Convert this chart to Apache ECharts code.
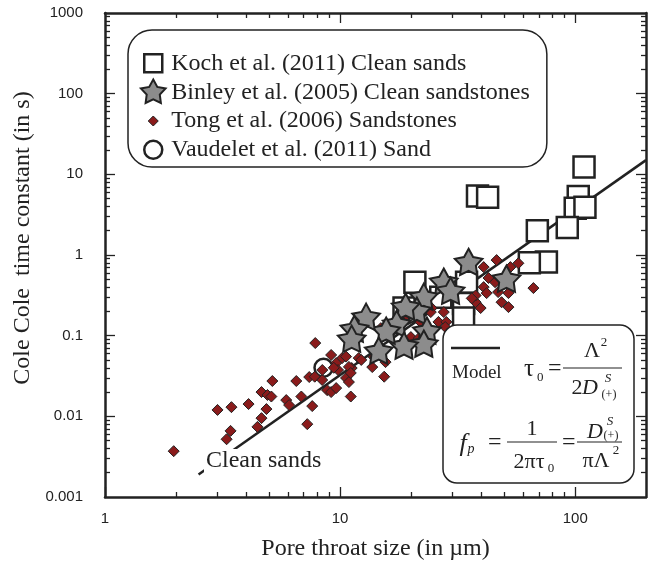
<!DOCTYPE html>
<html><head><meta charset="utf-8">
<script src="https://cdn.jsdelivr.net/npm/echarts@6/dist/echarts.min.js"></script>
<style>html,body{margin:0;padding:0;background:#fff}#c{width:653px;height:568px}</style>
</head><body><div id="c"></div>
<script>
// ---- tick labels ----
const xTickValues = [1, 10, 100];
const xTickLabels = ['1', '10', '100'];
const yTickValues = [0.001, 0.01, 0.1, 1, 10, 100, 1000];
const yTickLabels = ['0.001', '0.01', '0.1', '1', '10', '100', '1000'];

// ---- series names ----
const seriesNames = [
  'Koch et al. (2011) Clean sands',
  'Binley et al. (2005) Clean sandstones',
  'Tong et al. (2006) Sandstones',
  'Vaudelet et al. (2011) Sand'
];

// ---- data: [pore throat size (um), time constant (s)] ----
const kochData = [
  [109, 12.3], [38.4, 5.4], [42.4, 5.2], [103, 5.3], [100, 3.8], [110, 3.9],
  [92.5, 2.2], [69, 2.0], [75.4, 0.82], [63.8, 0.80], [20.8, 0.46], [34.5, 0.46],
  [33.5, 0.25], [33.5, 0.165], [18.7, 0.22], [26.8, 0.30]
];
const binleyData = [
  [35.2, 0.79], [27.6, 0.449], [29.5, 0.347], [51.0, 0.489], [22.7, 0.292],
  [21.2, 0.196], [19.0, 0.22], [17.4, 0.135], [23.4, 0.111], [22.7, 0.0766],
  [18.7, 0.0723], [15.7, 0.111], [12.9, 0.165], [11.5, 0.117], [11.2, 0.088],
  [14.6, 0.0627]
];
const tongData = [
  [1.96, 0.0037], [3.01, 0.012], [3.45, 0.013], [3.29, 0.0052], [3.42, 0.0066],
  [4.08, 0.0142], [4.86, 0.0123], [4.63, 0.0095], [4.45, 0.0074], [5.15, 0.0274],
  [4.63, 0.020], [4.91, 0.0184], [5.1, 0.0176], [5.9, 0.0159], [6.07, 0.0138],
  [6.84, 0.0176], [6.51, 0.0274], [7.61, 0.0134], [7.25, 0.008], [7.84, 0.081],
  [7.39, 0.0307], [7.8, 0.031], [9.16, 0.0576], [10.2, 0.0527], [9.62, 0.0457],
  [9.8, 0.0375], [8.39, 0.0282], [8.81, 0.0211], [9.16, 0.020], [9.62, 0.0224],
  [10.6, 0.0299], [10.9, 0.0266], [11.1, 0.0176], [11.2, 0.0397], [12.0, 0.0527],
  [13.7, 0.0408], [15.4, 0.031], [14.9, 0.124], [15.6, 0.047], [20.0, 0.096],
  [21.6, 0.093], [27.6, 0.196], [26.2, 0.148], [28.3, 0.148], [24.5, 0.22],
  [46.3, 0.865], [40.8, 0.708], [53.0, 0.708], [57.3, 0.79], [42.8, 0.518],
  [45.6, 0.46], [40.8, 0.40], [42.0, 0.337], [47.0, 0.347], [52.0, 0.337],
  [48.6, 0.26], [52.0, 0.226], [37.7, 0.26], [39.6, 0.22], [37.7, 0.315],
  [28.0, 0.128], [13.9, 0.0543], [66.4, 0.389], [10.6, 0.055], [12.3, 0.050],
  [10.9, 0.041], [9.4, 0.040], [11.1, 0.0345], [8.4, 0.0375], [36.3, 0.29],
  [22.0, 0.147], [24.3, 0.196], [17.0, 0.15], [19.5, 0.17]
];
const vaudeletData = [[8.5, 0.04]];
const modelLine = [[2.5, 0.0019], [200, 15]];

// ---- helpers ----
const F = 'Liberation Serif';
const INK = '#222';
function minorTicks(lo, hi, max) {
  const out = [];
  for (let e = lo; e < hi; e++) for (let k = 2; k <= 9; k++) {
    const v = +(k * Math.pow(10, e)).toPrecision(3);
    if (v < max) out.push(v);
  }
  return out;
}
const xMinor = minorTicks(0, 3, 200);
const yMinor = minorTicks(-3, 3, 1000);
const xMajorTicks = [10, 100];
const yMajorTicks = [0.01, 0.1, 1, 10, 100];

const STAR = 'M0,-10L3.115,-4.288L9.511,-3.09L5.04,1.638L5.878,8.09L0,5.3L-5.878,8.09L-5.04,1.638L-9.511,-3.09L-3.115,-4.288Z';
const starSymbol = 'path://M-10,-10M10,10' + STAR;

function labelFor(values, labels) {
  return function (v) {
    let best = 0, d = Infinity;
    values.forEach((t, i) => { const dd = Math.abs(Math.log10(v) - Math.log10(t)); if (dd < d) { d = dd; best = i; } });
    return labels[best];
  };
}

const lineStyleAxis = { color: INK, width: 2.5 };
function makeX(pos, ticks, len, withLine, withLabels) {
  return {
    type: 'log', logBase: 10, min: 1, max: 200, position: pos,
    axisLine: { show: withLine, onZero: false, lineStyle: lineStyleAxis },
    axisTick: { show: true, inside: true, length: len, customValues: ticks, lineStyle: { color: INK, width: 1.3 } },
    axisLabel: withLabels ? {
      show: true, customValues: xTickValues, formatter: labelFor(xTickValues, xTickLabels),
      margin: 14, fontSize: 15, color: INK, fontFamily: 'Liberation Sans'
    } : { show: false },
    splitLine: { show: false }, minorTick: { show: false }
  };
}
function makeY(pos, ticks, len, withLine, withLabels) {
  return {
    type: 'log', logBase: 10, min: 0.001, max: 1000, position: pos,
    axisLine: { show: withLine, onZero: false, lineStyle: lineStyleAxis },
    axisTick: { show: true, inside: true, length: len, customValues: ticks, lineStyle: { color: INK, width: 1.3 } },
    axisLabel: withLabels ? {
      show: true, customValues: yTickValues, formatter: labelFor(yTickValues, yTickLabels),
      margin: 22, fontSize: 15, color: INK, fontFamily: 'Liberation Sans'
    } : { show: false },
    splitLine: { show: false }, minorTick: { show: false }
  };
}

const xAxes = [
  makeX('bottom', [1].concat(xMajorTicks), 10, true, true),
  makeX('bottom', xMinor, 5, false, false),
  makeX('top', xMajorTicks, 10, true, false),
  makeX('top', xMinor, 5, false, false)
];
Object.assign(xAxes[0], {
  name: 'Pore throat size (in µm)', nameLocation: 'middle', nameGap: 40,
  nameTextStyle: { fontFamily: F, fontSize: 24, color: INK }
});
const yAxes = [
  makeY('left', yMajorTicks, 10, true, true),
  makeY('left', yMinor, 5, false, false),
  makeY('right', yMajorTicks, 10, true, false),
  makeY('right', yMinor, 5, false, false)
];
Object.assign(yAxes[0], {
  name: 'Cole Cole  time constant (in s)', nameLocation: 'middle', nameGap: 68,
  nameTextStyle: { fontFamily: F, fontSize: 24, color: INK, padding: [0, 0, 0, 34] }
});

function tx(text, x, y, size, opt) {
  return {
    type: 'text', x: x, y: y, z: 100, silent: true,
    style: Object.assign({
      text: text, fontFamily: F, fontSize: size, fill: INK,
      align: 'left', verticalAlign: 'middle', textAlign: 'left', textVerticalAlign: 'middle'
    }, opt || {})
  };
}
function ln(x1, y1, x2, y2, w) {
  return { type: 'line', z: 100, silent: true, shape: { x1, y1, x2, y2 }, style: { stroke: INK, lineWidth: w } };
}
const C = { align: 'center', textAlign: 'center' };
const CI = { align: 'center', textAlign: 'center', fontStyle: 'italic' };

const graphics = [
  { type: 'rect', z: 99, silent: true, shape: { x: 443, y: 325, width: 191, height: 158, r: 14 },
    style: { fill: '#fff', stroke: INK, lineWidth: 1.5 } },
  ln(451, 348, 500, 348, 2.5),
  tx('Model', 452, 373, 19),
  // tau_0 = Lambda^2 / (2 D^S_(+))
  tx('τ', 529, 369, 25, C),
  tx('0', 537, 378, 13),
  tx('=', 548, 369, 24),
  ln(563, 368, 622, 368, 1.2),
  tx('Λ', 592, 351, 22, C),
  tx('2', 604, 343, 13, C),
  tx('2', 577, 388, 22, C),
  tx('D', 590, 388, 22, CI),
  tx('S', 608, 379, 13, CI),
  tx('(+)', 609, 395, 12, C),
  // f_p = 1/(2 pi tau_0) = D^S_(+) / (pi Lambda^2)
  tx('f', 463, 444, 26, CI),
  tx('p', 471, 449, 14, CI),
  tx('=', 488, 443, 24),
  ln(507, 442, 557, 442, 1.2),
  tx('1', 532, 429, 22, C),
  tx('2πτ', 529, 462, 22, C),
  tx('0', 551, 469, 13, C),
  tx('=', 562, 443, 24),
  ln(577, 442, 622, 442, 1.2),
  tx('D', 595, 432, 22, CI),
  tx('S', 610, 422, 13, CI),
  tx('(+)', 611, 436, 12, C),
  tx('πΛ', 596, 461, 22, C),
  tx('2', 616, 451, 13, C),
  // Clean sands label over the model line
  Object.assign(tx('Clean sands', 204, 461, 24, { backgroundColor: '#fff', padding: [0, 2] }), { z: 50 })
];

const chart = echarts.init(document.getElementById('c'), null, { renderer: 'canvas' });
chart.setOption({
  animation: false,
  backgroundColor: '#fff',
  grid: { left: 105, right: 7, top: 13, bottom: 71 },
  xAxis: xAxes,
  yAxis: yAxes,
  legend: {
    left: 128, top: 30, orient: 'vertical', selectedMode: false,
    itemWidth: 26, itemHeight: 26, itemGap: 1, itemTextGap: 15,
    padding: [19, 17, 3, 11],
    borderColor: INK, borderWidth: 1.5, borderRadius: 24, backgroundColor: '#fff',
    textStyle: { fontFamily: F, fontSize: 24, color: INK },
    data: [
      { name: seriesNames[0], icon: 'path://M0,0M26,26M4,4L22,4L22,22L4,22Z',
        itemStyle: { color: '#fff', borderColor: INK, borderWidth: 2.5 } },
      { name: seriesNames[1], icon: 'path://M-10,-10M10,10' + STAR,
        itemStyle: { color: '#8c8c8c', borderColor: INK, borderWidth: 2 } },
      { name: seriesNames[2], icon: 'path://M0,0M26,26M13,8L18,13L13,18L8,13Z',
        itemStyle: { color: '#8a1b1b', borderColor: INK, borderWidth: 1 } },
      { name: seriesNames[3], icon: 'path://M0,0M26,26M4,13A9,9,0,1,1,22,13A9,9,0,1,1,4,13Z',
        itemStyle: { color: '#fff', borderColor: INK, borderWidth: 2.5 } }
    ]
  },
  graphic: graphics,
  series: [
    { name: 'Model', type: 'line', data: modelLine, symbol: 'none', silent: true,
      lineStyle: { color: INK, width: 2.5 }, z: 1 },
    { name: seriesNames[0], type: 'scatter', data: kochData, symbol: 'rect', symbolSize: 21,
      itemStyle: { color: '#fff', borderColor: INK, borderWidth: 2.5, opacity: 1 }, z: 2 },
    { name: seriesNames[3], type: 'scatter', data: vaudeletData, symbol: 'circle', symbolSize: 18,
      itemStyle: { color: '#fff', borderColor: INK, borderWidth: 2.5, opacity: 1 }, z: 2 },
    { name: seriesNames[2], type: 'scatter', data: tongData, symbol: 'diamond', symbolSize: 11,
      itemStyle: { color: '#8a1b1b', borderColor: INK, borderWidth: 1, opacity: 1 }, z: 2 },
    { name: seriesNames[1], type: 'scatter', data: binleyData, symbol: starSymbol, symbolSize: 29,
      symbolKeepAspect: true,
      itemStyle: { color: '#8c8c8c', borderColor: INK, borderWidth: 2, opacity: 1 }, z: 2 }
  ]
});
</script>
</body></html>
